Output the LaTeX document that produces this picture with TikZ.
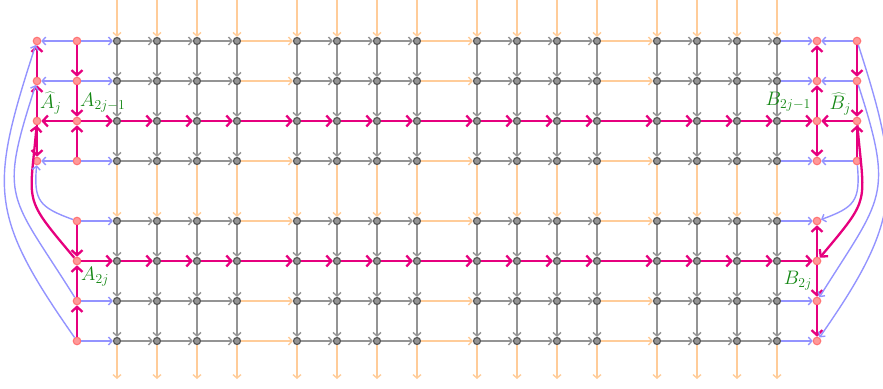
\RequirePackage{fix-cm}
\documentclass[tikz,border=0pt]{standalone}
\usetikzlibrary{arrows.meta}
\definecolor{mag}{RGB}{230,0,126}
\definecolor{lblgreen}{RGB}{20,135,20}
\begin{document}
\begin{tikzpicture}[x=1pt,y=-1pt,
  gn/.style={circle,inner sep=0pt,minimum size=7pt,fill=black!42,draw=black!65,line width=1.2pt},
  rn/.style={circle,inner sep=0pt,minimum size=7.5pt,fill=red!40,draw=red!55,line width=1.1pt},
  ge/.style={draw=black!42,line width=1.4pt,-{Straight Barb[length=3.5pt,width=8pt]}},
  oe/.style={draw=orange!40,line width=1.4pt,-{Straight Barb[length=3.5pt,width=8pt]}},
  be/.style={draw=blue!42,line width=1.4pt,-{Straight Barb[length=3.5pt,width=8pt]}},
  me/.style={draw=mag,line width=2.3pt,-{Straight Barb[length=5pt,width=11pt]}},
  lbl/.style={text=lblgreen,inner sep=0pt,font=\fontsize{19.5}{23}\selectfont}]
\useasboundingbox (0,0) rectangle (883,388);
% grid nodes
\foreach \c in {1,...,16}{
  \pgfmathtruncatemacro\bb{int((\c-1)/4)}
  \pgfmathtruncatemacro\kk{mod(\c-1,4)}
  \pgfmathtruncatemacro\xx{117+180*\bb+40*\kk}
  \coordinate (top-\c) at (\xx,0);
  \coordinate (bot-\c) at (\xx,379);
  \foreach \r in {1,...,8}{
    \pgfmathtruncatemacro\yy{\r<5 ? 40*\r+1 : 40*\r+21}
    \node[gn] (g-\c-\r) at (\xx,\yy) {};
  }
}
% side nodes
\foreach \r in {1,...,8}{
  \pgfmathtruncatemacro\yy{\r<5 ? 40*\r+1 : 40*\r+21}
  \node[rn] (a-\r) at (77,\yy) {};
  \node[rn] (b-\r) at (817,\yy) {};
}
\foreach \r in {1,...,4}{
  \pgfmathtruncatemacro\yy{40*\r+1}
  \node[rn] (ah-\r) at (37,\yy) {};
  \node[rn] (bh-\r) at (857,\yy) {};
}
% horizontal grid edges
\foreach \r in {1,...,8}{
  \foreach \c in {1,...,15}{
    \pgfmathtruncatemacro\n{\c+1}
    \pgfmathtruncatemacro\m{mod(\c,4)}
    \ifnum\r=3 \def\st{me}\else\ifnum\r=6 \def\st{me}\else\ifnum\m=0 \def\st{oe}\else\def\st{ge}\fi\fi\fi
    \draw[\st] (g-\c-\r) -- (g-\n-\r);
  }
  \ifnum\r=3 \def\st{me}\else\ifnum\r=6 \def\st{me}\else\def\st{be}\fi\fi
  \draw[\st] (a-\r) -- (g-1-\r);
  \draw[\st] (g-16-\r) -- (b-\r);
}
% vertical grid edges
\foreach \c in {1,...,16}{
  \foreach \r in {1,...,7}{
    \pgfmathtruncatemacro\n{\r+1}
    \ifnum\r=4 \def\st{oe}\else\def\st{ge}\fi
    \draw[\st] (g-\c-\r) -- (g-\c-\n);
  }
  \draw[oe] (top-\c) -- (g-\c-1);
  \draw[oe] (g-\c-8) -- (bot-\c);
}
% hat links
\foreach \r in {1,2,4}{
  \draw[be] (a-\r) -- (ah-\r);
  \draw[be] (bh-\r) -- (b-\r);
}
\draw[me] (a-3) -- (ah-3);
\draw[me] (bh-3) -- (b-3);
% A column
\draw[me] (a-1) -- (a-2);
\draw[me] (a-2) -- (a-3);
\draw[me] (a-4) -- (a-3);
\draw[me] (a-5) -- (a-6);
\draw[me] (a-7) -- (a-6);
\draw[me] (a-8) -- (a-7);
% A hat column
\draw[me] (ah-2) -- (ah-1);
\draw[me] (ah-3) -- (ah-2);
\draw[me] (ah-3) -- (ah-4);
% B column
\draw[me] (b-2) -- (b-1);
\draw[me] (b-3) -- (b-2);
\draw[me] (b-3) -- (b-4);
\draw[me] (b-6) -- (b-5);
\draw[me] (b-6) -- (b-7);
\draw[me] (b-7) -- (b-8);
% B hat column
\draw[me] (bh-1) -- (bh-2);
\draw[me] (bh-2) -- (bh-3);
\draw[me] (bh-4) -- (bh-3);
% curves left
\draw[be] (a-8) to[out=125,in=-108,looseness=1.3] (ah-1);
\draw[be] (a-7) to[out=122,in=-108,looseness=1.45] (ah-2);
\draw[me] (a-6) to[out=130,in=-95,looseness=1.5] (ah-3);
\draw[be] (a-5) to[out=160,in=-95,looseness=1.4] (ah-4);
% curves right
\draw[be] (bh-1) to[out=-72,in=55,looseness=1.25] (b-8);
\draw[be] (bh-2) to[out=-72,in=58,looseness=1.4] (b-7);
\draw[me] (bh-3) to[out=-85,in=50,looseness=1.5] (b-6);
\draw[be] (bh-4) to[out=-85,in=20,looseness=1.4] (b-5);
% labels
\node[lbl,anchor=south west] (lAh) at (40,114) {$\widehat{A}_j$};
\node[lbl,anchor=south west] (lA1) at (80,112) {$A_{2j-1}$};
\node[lbl,anchor=south east] (lB1) at (811,111) {$B_{2j-1}$};
\node[lbl,anchor=south east] (lBh) at (851,115) {$\widehat{B}_j$};
\node[lbl,anchor=north west] (lA2) at (81,267) {$A_{2j}$};
\node[lbl,anchor=north east] (lB2) at (812,271) {$B_{2j}$};
\end{tikzpicture}
\end{document}
